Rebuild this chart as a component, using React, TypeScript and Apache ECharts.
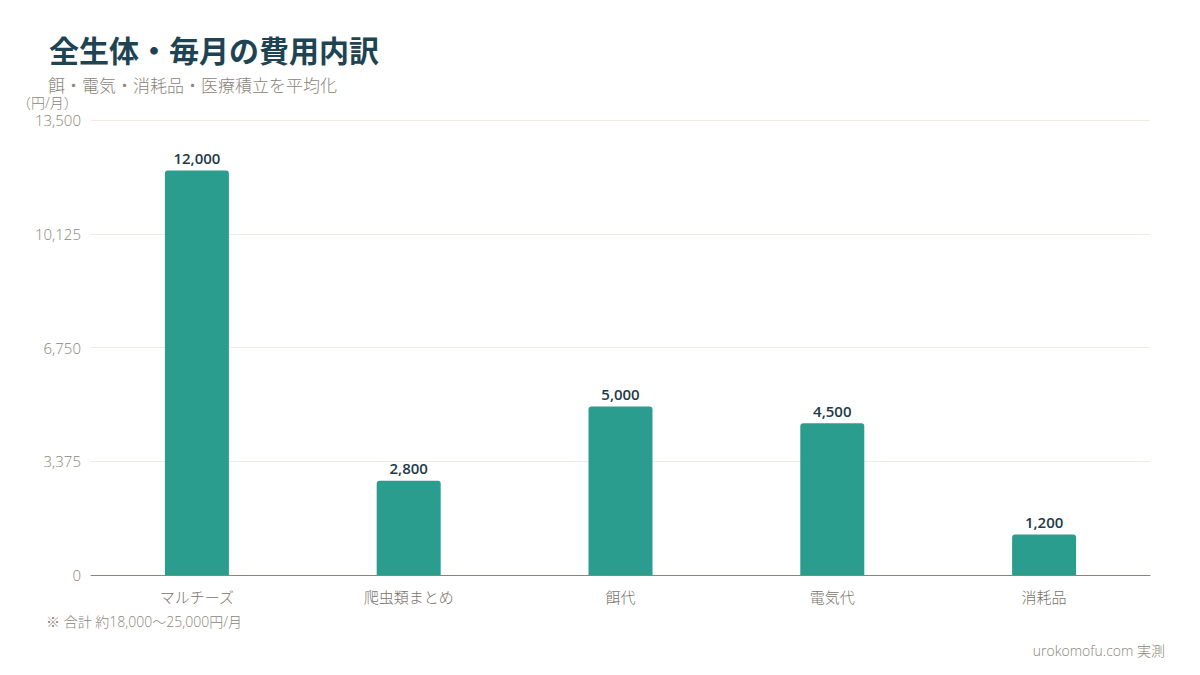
import React, { useEffect, useRef } from "react";
import * as echarts from "echarts";

const categories = ["マルチーズ", "爬虫類まとめ", "餌代", "電気代", "消耗品"];
const values = [12000, 2800, 5000, 4500, 1200];
const yMax = 13500;
const yInterval = 3375;

const FONT = '"Open Sans", "Noto Sans CJK JP", sans-serif';
const GRAY = "#8a8578";

export default function App() {
  const ref = useRef<HTMLDivElement>(null);
  useEffect(() => {
    const chart = echarts.init(ref.current!, null, { renderer: "svg" });
    chart.setOption({
      animation: false,
      backgroundColor: "#ffffff",
      textStyle: { fontFamily: FONT },
      title: [
        {
          text: "全生体・毎月の費用内訳",
          left: 44,
          top: 30,
          textStyle: { fontSize: 30, fontWeight: "bold", color: "#1e4352", fontFamily: FONT },
        },
        {
          text: "餌・電気・消耗品・医療積立を平均化",
          left: 43,
          top: 70,
          textStyle: { fontSize: 17, fontWeight: 300, color: GRAY, fontFamily: FONT, lineHeight: 20 },
        },
      ],
      graphic: [
        {
          type: "text",
          left: 17,
          top: 95,
          style: { text: "（円/月）", fontSize: 14, lineHeight: 15, fontWeight: 300, fill: GRAY, fontFamily: FONT },
        },
        {
          type: "text",
          left: 46,
          top: 614,
          style: { text: "※ 合計 約18,000〜25,000円/月", fontSize: 14, fontWeight: 300, fill: GRAY, fontFamily: FONT },
        },
        {
          type: "text",
          right: 35,
          top: 643,
          style: { text: "urokomofu.com 実測", fontSize: 14, fontWeight: 300, fill: GRAY, fontFamily: FONT },
        },
      ],
      grid: { left: 91, right: 50, top: 120, bottom: 100, containLabel: false },
      xAxis: {
        type: "category",
        data: categories,
        axisLine: { lineStyle: { color: GRAY } },
        axisTick: { show: false },
        axisLabel: { color: "#77736a", fontSize: 15, fontWeight: 300, margin: 14, fontFamily: FONT },
      },
      yAxis: {
        type: "value",
        min: 0,
        max: yMax,
        interval: yInterval,
        axisLine: { show: false },
        axisTick: { show: false },
        splitLine: { lineStyle: { color: "#f0ebe2" } },
        axisLabel: {
          color: GRAY,
          fontSize: 15,
          lineHeight: 16,
          fontWeight: 300,
          margin: 10,
          fontFamily: FONT,
          formatter: (v: number) => v.toLocaleString("en-US"),
        },
      },
      series: [
        {
          type: "bar",
          data: values,
          barWidth: 64,
          itemStyle: { color: "#2a9d8f", borderRadius: [3, 3, 0, 0] },
          label: {
            show: true,
            position: "top",
            distance: 5,
            color: "#1e3a48",
            fontSize: 15,
            fontWeight: 600,
            fontFamily: FONT,
            formatter: (p: any) => Number(p.value).toLocaleString("en-US"),
          },
        },
      ],
    });
    return () => chart.dispose();
  }, []);
  return <div ref={ref} style={{ width: 1200, height: 675, position: "absolute", left: 0, top: 0 }} />;
}
